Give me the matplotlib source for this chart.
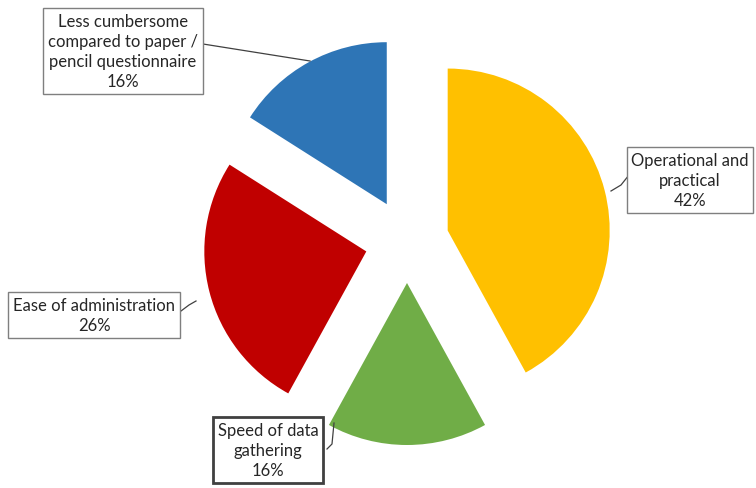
import matplotlib.pyplot as plt

labels = ["Operational and\npractical", "Speed of data\ngathering",
          "Ease of administration", "Less cumbersome\ncompared to paper /\npencil questionnaire"]
shares = [42, 16, 26, 16]
colors = ["#FFC000", "#70AD47", "#C00000", "#2E75B6"]

fig = plt.figure(figsize=(7.56, 4.89), dpi=100)
ax = fig.add_axes([0, 0, 1, 1])

# explode offsets are in data units here (pixels)
ax.pie(shares, colors=colors, startangle=90, counterclock=False,
       explode=[42] * 4, center=(407, 247), radius=162,
       wedgeprops=dict(linewidth=0))

# pie() resets the limits, so set them afterwards (pixel units)
ax.set_xlim(0, 756)
ax.set_ylim(0, 489)
ax.set_aspect("equal")
ax.axis("off")

# label boxes (x, y in pixels from top-left), leader line end points
font = ["Lato", "DejaVu Sans"]
boxes = [
    (690, 181, [(629, 176), (621, 186), (611, 192)], "#7f7f7f", 1.0),
    (268, 451, [(327, 450), (332, 445), (334, 424)], "#404040", 2.0),
    (94, 316, [(181, 312), (189, 306), (196, 302)], "#7f7f7f", 1.0),
    (123, 52, [(203, 45), (310, 62)], "#7f7f7f", 1.0),
]
for (x, y, line, edge, lw), lab, val in zip(boxes, labels, shares):
    xs = [p[0] for p in line]
    ys = [489 - p[1] for p in line]
    ax.plot(xs, ys, color="#404040", lw=0.9)
    ax.text(x, 489 - y, f"{lab}\n{val}%", ha="center", va="center",
            fontsize=12, family=font, color="#262626", linespacing=1.32,
            bbox=dict(boxstyle="square,pad=0.28", fc="white", ec=edge, lw=lw))

fig.savefig("out.png", dpi=100)
